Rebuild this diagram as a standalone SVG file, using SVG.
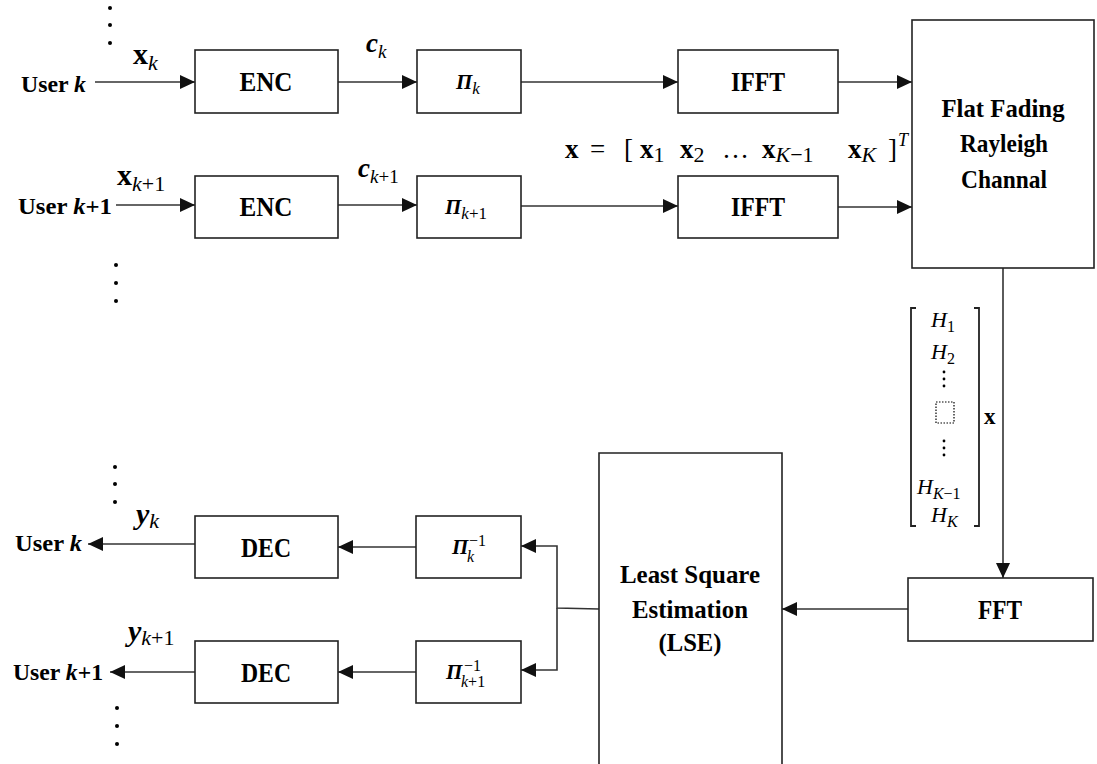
<svg xmlns="http://www.w3.org/2000/svg" width="1097" height="764" viewBox="0 0 1097 764">
<style>
.box{fill:#fff;stroke:#222;stroke-width:1.6}
.ln{fill:none;stroke:#333;stroke-width:1.6}
.lbl{font-family:"Liberation Serif",serif;font-weight:bold;font-size:28px;fill:#000;text-anchor:middle}
.big{font-size:26px}
.m{font-family:"Liberation Serif",serif;fill:#000}
.dot{fill:#000}
</style>
<defs>
<marker id="ah" markerWidth="16" markerHeight="14" refX="15" refY="7" orient="auto" markerUnits="userSpaceOnUse">
<path d="M0,0 L15,7 L0,14 Z" fill="#111"/>
</marker>
</defs>
<g id="dots">
<circle class="dot" cx="110" cy="8" r="2"/><circle class="dot" cx="110" cy="25" r="2"/><circle class="dot" cx="110" cy="43" r="2"/>
<circle class="dot" cx="116" cy="265" r="2"/><circle class="dot" cx="116" cy="283" r="2"/><circle class="dot" cx="116" cy="301" r="2"/>
<circle class="dot" cx="115" cy="467" r="2"/><circle class="dot" cx="115" cy="484" r="2"/><circle class="dot" cx="115" cy="502" r="2"/>
<circle class="dot" cx="117" cy="708" r="2"/><circle class="dot" cx="117" cy="726" r="2"/><circle class="dot" cx="117" cy="744" r="2"/>
</g>
<g id="connectors">
<line class="ln" x1="95" y1="82" x2="195" y2="82" marker-end="url(#ah)"/>
<line class="ln" x1="338" y1="82" x2="417" y2="82" marker-end="url(#ah)"/>
<line class="ln" x1="521" y1="82" x2="678" y2="82" marker-end="url(#ah)"/>
<line class="ln" x1="838" y1="82" x2="912" y2="82" marker-end="url(#ah)"/>
<line class="ln" x1="116" y1="205" x2="195" y2="205" marker-end="url(#ah)"/>
<line class="ln" x1="338" y1="205" x2="417" y2="205" marker-end="url(#ah)"/>
<line class="ln" x1="521" y1="206" x2="678" y2="206" marker-end="url(#ah)"/>
<line class="ln" x1="838" y1="207" x2="912" y2="207" marker-end="url(#ah)"/>
<line class="ln" x1="1003" y1="268" x2="1003" y2="578" marker-end="url(#ah)"/>
<line class="ln" x1="908" y1="609" x2="782" y2="609" marker-end="url(#ah)"/>
<polyline class="ln" points="599,609 557,608 557,546 521,546" marker-end="url(#ah)"/>
<polyline class="ln" points="557,608 557,670 521,670" marker-end="url(#ah)"/>
<line class="ln" x1="416" y1="547" x2="338" y2="547" marker-end="url(#ah)"/>
<line class="ln" x1="416" y1="672" x2="338" y2="672" marker-end="url(#ah)"/>
<line class="ln" x1="195" y1="544" x2="88" y2="544" marker-end="url(#ah)"/>
<line class="ln" x1="195" y1="672" x2="110" y2="672" marker-end="url(#ah)"/>
</g>
<g id="user-k-in">
<text class="m" x="21" y="92" font-size="24" font-weight="bold" textLength="65" lengthAdjust="spacingAndGlyphs">User <tspan font-style="italic">k</tspan></text>
<text class="m" x="133" y="64" font-size="30" font-weight="bold">x<tspan font-size="22" font-weight="normal" font-style="italic" dy="6">k</tspan></text>
</g>
<g id="user-k1-in">
<text class="m" x="18" y="214" font-size="24" font-weight="bold" textLength="94" lengthAdjust="spacingAndGlyphs">User <tspan font-style="italic">k</tspan>+1</text>
<text class="m" x="117" y="185" font-size="30" font-weight="bold">x<tspan font-size="22" font-weight="normal" dy="6"><tspan font-style="italic">k</tspan>+1</tspan></text>
</g>
<g id="enc-k"><rect class="box" x="195" y="50" width="143" height="63"/><text class="lbl" x="266" y="91" textLength="53" lengthAdjust="spacingAndGlyphs">ENC</text></g>
<g id="enc-k1"><rect class="box" x="195" y="176" width="143" height="62"/><text class="lbl" x="266" y="216" textLength="53" lengthAdjust="spacingAndGlyphs">ENC</text></g>
<g id="ck"><text class="m" x="366" y="52" font-size="27" font-weight="bold" font-style="italic">c<tspan font-size="19" font-weight="normal" dy="6">k</tspan></text></g>
<g id="ck1"><text class="m" x="358" y="177" font-size="27" font-weight="bold" font-style="italic">c<tspan font-size="19" font-weight="normal" dy="6"><tspan>k</tspan><tspan font-style="normal">+1</tspan></tspan></text></g>
<g id="pi-k"><rect class="box" x="417" y="50" width="104" height="63"/><text class="m" x="456" y="89" font-size="21" font-weight="bold" font-style="italic">Π<tspan font-size="17" font-weight="normal" dy="5">k</tspan></text></g>
<g id="pi-k1"><rect class="box" x="417" y="176" width="104" height="62"/><text class="m" x="445" y="214" font-size="21" font-weight="bold" font-style="italic">Π<tspan font-size="17" font-weight="normal" dy="5">k<tspan font-style="normal">+1</tspan></tspan></text></g>
<g id="ifft-k"><rect class="box" x="678" y="50" width="160" height="63"/><text class="lbl" x="758" y="91" textLength="54" lengthAdjust="spacingAndGlyphs">IFFT</text></g>
<g id="ifft-k1"><rect class="box" x="678" y="176" width="160" height="62"/><text class="lbl" x="758" y="216" textLength="54" lengthAdjust="spacingAndGlyphs">IFFT</text></g>
<g id="xvec" font-family="Liberation Serif, serif" font-size="27" fill="#000">
<text x="565" y="158" font-weight="bold">x</text>
<text x="590" y="158">=</text>
<text x="624" y="158">[</text>
<text x="640" y="158" font-weight="bold">x<tspan font-size="22" font-weight="normal" dy="4">1</tspan></text>
<text x="680" y="158" font-weight="bold">x<tspan font-size="22" font-weight="normal" dy="4">2</tspan></text>
<text x="722" y="158">…</text>
<text x="762" y="158" font-weight="bold">x<tspan font-size="22" font-weight="normal" dy="4"><tspan font-style="italic">K</tspan>−1</tspan></text>
<text x="848" y="158" font-weight="bold">x<tspan font-size="22" font-weight="normal" font-style="italic" dy="4">K</tspan></text>
<text x="888" y="158">]</text>
<text x="898" y="146" font-size="18" font-style="italic">T</text>
</g>
<g id="channel"><rect class="box" x="912" y="20" width="182" height="248"/>
<text class="lbl big" x="1003" y="117" textLength="123" lengthAdjust="spacingAndGlyphs">Flat Fading</text><text class="lbl big" x="1004" y="152" textLength="88" lengthAdjust="spacingAndGlyphs">Rayleigh</text><text class="lbl big" x="1004" y="188" textLength="86" lengthAdjust="spacingAndGlyphs">Channal</text></g>
<g id="matrix">
<path d="M916,308 H911 V526 H916" fill="none" stroke="#222" stroke-width="1.8"/>
<path d="M974,308 H979 V526 H974" fill="none" stroke="#222" stroke-width="1.8"/>
<text class="m" x="931" y="327" font-size="22" font-style="italic">H<tspan font-size="16" font-style="normal" dy="5">1</tspan></text>
<text class="m" x="931" y="359" font-size="22" font-style="italic">H<tspan font-size="16" font-style="normal" dy="5">2</tspan></text>
<circle class="dot" cx="944" cy="372" r="1.4"/><circle class="dot" cx="944" cy="379" r="1.4"/><circle class="dot" cx="944" cy="386" r="1.4"/>
<rect x="936" y="402" width="18" height="21" fill="none" stroke="#000" stroke-width="1.2" stroke-dasharray="1.5,1.5"/>
<circle class="dot" cx="944" cy="441" r="1.4"/><circle class="dot" cx="944" cy="448" r="1.4"/><circle class="dot" cx="944" cy="455" r="1.4"/>
<text class="m" x="917" y="494" font-size="22" font-style="italic">H<tspan font-size="16" dy="5">K<tspan font-style="normal">−1</tspan></tspan></text>
<text class="m" x="931" y="522" font-size="22" font-style="italic">H<tspan font-size="16" dy="5">K</tspan></text>
<text class="m" x="984" y="424" font-size="23" font-weight="bold">x</text>
</g>
<g id="fft"><rect class="box" x="908" y="578" width="185" height="63"/><text class="lbl" x="1000" y="619" textLength="44" lengthAdjust="spacingAndGlyphs">FFT</text></g>
<g id="lse"><path class="box" d="M599,766 V453 H782 V766"/>
<text class="lbl big" x="690" y="583" textLength="140" lengthAdjust="spacingAndGlyphs">Least Square</text><text class="lbl big" x="690" y="618" textLength="116" lengthAdjust="spacingAndGlyphs">Estimation</text><text class="lbl big" x="690" y="651" textLength="63" lengthAdjust="spacingAndGlyphs">(LSE)</text></g>
<g id="pinv-k"><rect class="box" x="416" y="516" width="105" height="62"/>
<text class="m" x="452" y="554" font-size="21" font-weight="bold" font-style="italic">Π</text>
<text class="m" x="469" y="546" font-size="16">−1</text><text class="m" x="467" y="562" font-size="16" font-style="italic">k</text></g>
<g id="pinv-k1"><rect class="box" x="416" y="641" width="105" height="62"/>
<text class="m" x="446" y="679" font-size="21" font-weight="bold" font-style="italic">Π</text>
<text class="m" x="464" y="671" font-size="16">−1</text><text class="m" x="461" y="687" font-size="16"><tspan font-style="italic">k</tspan>+1</text></g>
<g id="dec-k"><rect class="box" x="195" y="516" width="143" height="62"/><text class="lbl" x="266" y="557" textLength="50" lengthAdjust="spacingAndGlyphs">DEC</text></g>
<g id="dec-k1"><rect class="box" x="195" y="641" width="143" height="62"/><text class="lbl" x="266" y="682" textLength="50" lengthAdjust="spacingAndGlyphs">DEC</text></g>
<g id="user-k-out">
<text class="m" x="15" y="551" font-size="24" font-weight="bold" textLength="67" lengthAdjust="spacingAndGlyphs">User <tspan font-style="italic">k</tspan></text>
<text class="m" x="136" y="524" font-size="30" font-weight="bold" font-style="italic">y<tspan font-size="22" font-weight="normal" dy="4">k</tspan></text>
</g>
<g id="user-k1-out">
<text class="m" x="13" y="680" font-size="24" font-weight="bold" textLength="90" lengthAdjust="spacingAndGlyphs">User <tspan font-style="italic">k</tspan>+1</text>
<text class="m" x="128" y="641" font-size="30" font-weight="bold" font-style="italic">y<tspan font-size="22" font-weight="normal" dy="4"><tspan>k</tspan><tspan font-style="normal">+1</tspan></tspan></text>
</g>
</svg>
